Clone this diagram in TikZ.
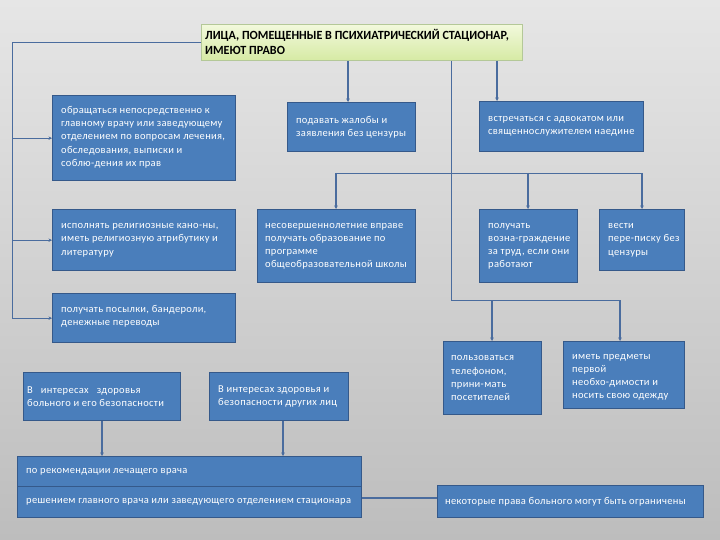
\documentclass[tikz,border=0pt]{standalone}
\usepackage{fontspec}
\setmainfont{Carlito}
\newfontfamily\boxfont[LetterSpace=3]{Carlito}
\newfontfamily\titlefont[FakeStretch=0.97]{Carlito}
\usetikzlibrary{arrows.meta}
\definecolor{bgtop}{HTML}{E6E6E6}
\definecolor{bgbot}{HTML}{BDBDBD}
\definecolor{boxfill}{HTML}{4A7EBB}
\definecolor{boxline}{HTML}{35598A}
\definecolor{conn}{HTML}{4A6C9E}
\definecolor{ttop}{HTML}{F2F9DC}
\definecolor{tbot}{HTML}{D6EAA4}
\definecolor{tline}{HTML}{B4C898}
\tikzset{
  bx/.style={draw=boxline, line width=1.3pt, fill=boxfill, anchor=north west, inner sep=0pt},
  txt/.style={anchor=west, align=left, text=white, inner sep=0pt,
    font=\boxfont\fontsize{10.5}{13.2}\selectfont},
  ln/.style={draw=conn, line width=1.2pt},
  thin/.style={draw=conn, line width=0.9pt},
  arr/.style={-{Stealth[length=3.5pt,width=3.5pt]}}
}
\begin{document}
\begin{tikzpicture}[x=1pt,y=-1pt]
\useasboundingbox (0,0) rectangle (720,540);
\fill[top color=bgtop, bottom color=bgbot] (0,0) rectangle (720,540);

% title
\node[draw=tline, line width=0.8pt, top color=ttop, bottom color=tbot, anchor=north west,
  minimum width=321pt, minimum height=36pt, inner sep=0pt] (title) at (201,24) {};
\node[anchor=west, align=left, inner sep=0pt,
  font=\titlefont\bfseries\fontsize{12.5}{15}\selectfont] (titlet) at ([xshift=4pt]title.west)
  {ЛИЦА, ПОМЕЩЕННЫЕ В ПСИХИАТРИЧЕСКИЙ СТАЦИОНАР,\\ИМЕЮТ ПРАВО};

% boxes
\node[bx, minimum width=183pt, minimum height=85pt] (b1) at (52,95) {};
\node[txt] (b1t) at ([xshift=9pt,yshift=1pt]b1.west) {обращаться непосредственно к\\главному врачу или заведующему\\отделением по вопросам лечения,\\обследования, выписки и\\соблю-дения их прав};

\node[bx, minimum width=128pt, minimum height=49pt] (b2) at (287,102) {};
\node[txt] (b2t) at ([xshift=9pt]b2.west) {подавать жалобы и\\заявления без цензуры};

\node[bx, minimum width=164pt, minimum height=50pt] (b3) at (479,101) {};
\node[txt] (b3t) at ([xshift=9pt]b3.west) {встречаться с адвокатом или\\священнослужителем наедине};

\node[bx, minimum width=183pt, minimum height=61pt] (b4) at (52,209) {};
\node[txt] (b4t) at ([xshift=9pt]b4.west) {исполнять религиозные кано-ны,\\иметь религиозную атрибутику и\\литературу};

\node[bx, minimum width=158pt, minimum height=73pt] (b5) at (257,209) {};
\node[txt] (b5t) at ([xshift=8pt]b5.west) {несовершеннолетние вправе\\получать образование по\\программе\\общеобразовательной школы};

\node[bx, minimum width=98pt, minimum height=73pt] (b6) at (479,209) {};
\node[txt] (b6t) at ([xshift=9pt]b6.west) {получать\\возна-граждение\\за труд, если они\\работают};

\node[bx, minimum width=85pt, minimum height=61pt] (b7) at (599,209) {};
\node[txt] (b7t) at ([xshift=9pt]b7.west) {вести\\пере-писку без\\цензуры};

\node[bx, minimum width=183pt, minimum height=49pt] (b8) at (52,293) {};
\node[txt] (b8t) at ([xshift=9pt,yshift=2pt]b8.west) {получать посылки, бандероли,\\денежные переводы};

\node[bx, minimum width=98pt, minimum height=73pt] (b9) at (443,341) {};
\node[txt] (b9t) at ([xshift=8pt]b9.west) {пользоваться\\телефоном,\\прини-мать\\посетителей};

\node[bx, minimum width=121pt, minimum height=67pt] (b10) at (563,341) {};
\node[txt] (b10t) at ([xshift=9pt,yshift=-2pt]b10.west) {иметь предметы\\первой\\необхо-димости и\\носить свою одежду};

\node[bx, minimum width=157pt, minimum height=48pt] (b11) at (23,372) {};
\node[txt] (b11t) at ([xshift=4pt]b11.west) {В \ \ интересах \ \ здоровья\\больного и его безопасности};

\node[bx, minimum width=139pt, minimum height=48pt] (b12) at (209,372) {};
\node[txt] (b12t) at ([xshift=9pt]b12.west) {В интересах здоровья и\\безопасности других лиц};

\node[bx, minimum width=344pt, minimum height=30pt] (b13) at (17,456) {};
\node[txt] (b13t) at ([xshift=9pt]b13.west) {по рекомендации лечащего врача};

\node[bx, minimum width=344pt, minimum height=31pt] (b14) at (17,486) {};
\node[txt] (b14t) at ([xshift=9pt]b14.west) {решением главного врача или заведующего отделением стационара};

\node[bx, minimum width=266pt, minimum height=32pt] (b15) at (437,485) {};
\node[txt] (b15t) at ([xshift=8pt]b15.west) {некоторые права больного могут быть ограничены};

% helper coordinates
\coordinate (L) at (12,42);
\coordinate (xA) at (348,0);
\coordinate (xB) at (451,0);
\coordinate (xC) at (497,0);
\coordinate (bar) at (336,173);
\coordinate (barR) at (642,173);
\coordinate (x528) at (528,0);
\coordinate (corner) at (451,300);
\coordinate (cornerR) at (620,300);
\coordinate (x492) at (492,0);
\coordinate (x102) at (102,0);
\coordinate (x283) at (283,0);
\coordinate (yLink) at (0,498);

% left spine
\draw[thin] (title.west |- L) -- (L) -- (L |- b8.west);
\draw[ln, arr] (L |- b1.west) -- (b1.west);
\draw[ln, arr] (L |- b4.west) -- (b4.west);
\draw[ln, arr] (L |- b8.west) -- (b8.west);

% title to top boxes
\draw[ln, arr] (title.south -| xA) -- (b2.north -| xA);
\draw[ln, arr] (title.south -| xC) -- (b3.north -| xC);

% long line to bottom right
\draw[thin] (title.south -| xB) -- (corner) -- (cornerR);
\draw[ln, arr] (corner -| x492) -- (b9.north -| x492);
\draw[ln, arr] (cornerR) -- (b10.north -| cornerR);

% middle bar
\draw[thin] (bar) -- (barR);
\draw[ln, arr] (bar) -- (b5.north -| bar);
\draw[ln, arr] (bar -| x528) -- (b6.north -| x528);
\draw[ln, arr] (barR) -- (b7.north -| barR);

% bottom left
\draw[ln, arr] (b11.south -| x102) -- (b13.north -| x102);
\draw[ln, arr] (b12.south -| x283) -- (b13.north -| x283);

% bottom right link
\draw[ln] (b14.east |- yLink) -- (b15.west |- yLink);
\end{tikzpicture}
\end{document}
